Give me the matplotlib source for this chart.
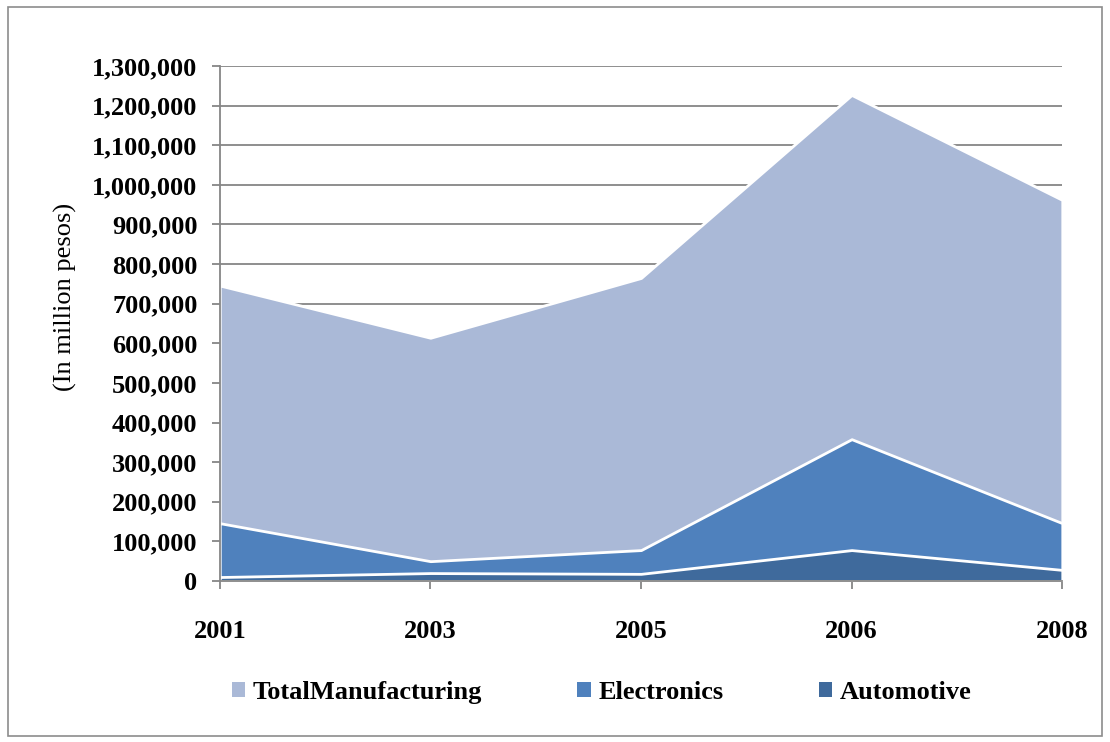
import matplotlib
matplotlib.use("Agg")
import matplotlib.pyplot as plt
from matplotlib.ticker import FuncFormatter
from matplotlib.patches import Rectangle

years = ["2001", "2003", "2005", "2006", "2008"]
total_manufacturing = [746000, 614000, 765000, 1227000, 962000]
electronics = [146000, 50000, 78000, 358000, 146000]
automotive = [10000, 20000, 18000, 78000, 28000]
series_names = ["TotalManufacturing", "Electronics", "Automotive"]
colors = ["#AAB9D7", "#4F81BD", "#3F6A9C"]

plt.rcParams['font.family'] = ['Liberation Serif', 'DejaVu Serif']

fig = plt.figure(figsize=(11.1, 7.42), dpi=100)
fig.patches.append(Rectangle((0.007, 0.008), 0.986, 0.983, transform=fig.transFigure,
                             fill=False, edgecolor="#8C8C8C", linewidth=1.2))
ax = fig.add_axes([0.198, 0.217, 0.759, 0.694])

x = list(range(len(years)))
for vals, name, c in zip([total_manufacturing, electronics, automotive], series_names, colors):
    ax.fill_between(x, 0, vals, facecolor=c, edgecolor="white", linewidth=2, label=name, zorder=2)

ax.set_xlim(0, len(years) - 1)
ax.set_ylim(0, 1300000)
ax.set_yticks(range(0, 1300001, 100000))
ax.yaxis.set_major_formatter(FuncFormatter(lambda v, p: f"{int(v):,}"))
ax.set_xticks(x)
ax.set_xticklabels(years)
ax.grid(axis="y", color="#868686", linewidth=1.3, zorder=0)
ax.set_axisbelow(True)
for s in ["top", "right"]:
    ax.spines[s].set_visible(False)
ax.spines["left"].set_color("#868686")
ax.spines["bottom"].set_color("#868686")
ax.spines["left"].set_linewidth(1.3)
ax.spines["bottom"].set_linewidth(1.3)
ax.tick_params(axis="y", length=6, width=1.3, color="#868686", pad=10, labelsize=19)
ax.tick_params(axis="x", length=6, width=1.3, color="#868686", pad=22, labelsize=19)
for lab in ax.get_xticklabels() + ax.get_yticklabels():
    lab.set_fontweight("bold")
ax.set_ylabel("(In million pesos)", fontsize=19)
ax.yaxis.set_label_coords(-0.170, 0.551)

leg = fig.legend(loc="center", bbox_to_anchor=(0.542, 0.067), ncol=3, frameon=False,
                 prop={"size": 19, "weight": "bold"}, handlelength=0.5, handleheight=0.5,
                 handletextpad=0.3, columnspacing=3.6)
for h in leg.legend_handles:
    h.set_edgecolor("none")

fig.savefig("out.png", dpi=100)
